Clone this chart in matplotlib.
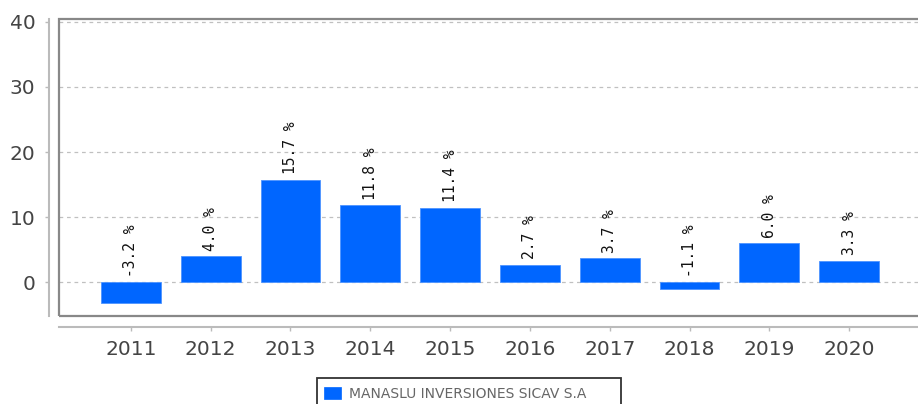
import matplotlib
matplotlib.use("Agg")
import matplotlib.pyplot as plt
from matplotlib.patches import Rectangle

years = ["2011", "2012", "2013", "2014", "2015", "2016", "2017", "2018", "2019", "2020"]
returns = [-3.2, 4.0, 15.7, 11.8, 11.4, 2.7, 3.7, -1.1, 6.0, 3.3]
series_name = "MANASLU INVERSIONES SICAV S.A"
yticks = [0, 10, 20, 30, 40]

W, H = 918, 404
fig = plt.figure(figsize=(W / 100, H / 100), dpi=100)
left, right, top, bottom = 59, 921, 19, 316
ax = fig.add_axes([left / W, 1 - bottom / H, (right - left) / W, (bottom - top) / H])

bar_color = "#0066FF"
x = list(range(len(years)))
ax.bar(x, returns, width=0.75, color=bar_color, edgecolor="#4d94ff", linewidth=0.6, zorder=3)

ax.set_xlim(-0.9, 9.9)
ax.set_ylim(-5.2, 40.45)
ax.set_yticks(yticks)
ax.set_xticks(x)
ax.set_xticklabels(years)

ax.grid(axis="y", color="#c0c0c0", linestyle=(0, (3, 3)), linewidth=0.9, zorder=0)
ax.set_axisbelow(True)

for s in ["top", "right"]:
    ax.spines[s].set_visible(False)
ax.spines["left"].set_position(("outward", 7))
ax.spines["bottom"].set_position(("outward", 8))
ax.spines["left"].set_color("#bbbbbb")
ax.spines["bottom"].set_color("#bbbbbb")
ax.spines["left"].set_linewidth(1.5)
ax.spines["bottom"].set_linewidth(1.5)

ax.add_patch(Rectangle((0, 0), 1, 1, transform=ax.transAxes, fill=False,
                       edgecolor="#888888", linewidth=1.6, zorder=5, clip_on=False))

ax.tick_params(axis="both", colors="#bbbbbb", labelcolor="#444444", labelsize=14.5,
               length=3, width=1)
ax.tick_params(axis="y", pad=7)
ax.tick_params(axis="x", pad=6)

for xi, v in zip(x, returns):
    base = max(v, 0)
    ax.annotate(f"{v:.1f} %", xy=(xi, base), xytext=(0, 4), textcoords="offset points",
                rotation=90, ha="center", va="bottom", fontsize=10.5,
                family="DejaVu Sans Mono", color="#111111", zorder=6)

# legend drawn in figure pixel fractions
def fx(px):
    return px / W

def fy(py):
    return 1 - py / H

fig.patches.append(Rectangle((fx(317), fy(405)), fx(621) - fx(317), fy(378) - fy(405),
                             transform=fig.transFigure, fill=False, edgecolor="#333333",
                             linewidth=1.3, clip_on=False))
fig.patches.append(Rectangle((fx(324), fy(399)), fx(341) - fx(324), fy(387) - fy(399),
                             transform=fig.transFigure, facecolor=bar_color,
                             edgecolor=bar_color, linewidth=0.5))
fig.text(fx(349), fy(393.5), series_name, ha="left", va="center",
         family="Liberation Sans Narrow", fontsize=10, color="#666666")

fig.savefig("out.png", dpi=100)
